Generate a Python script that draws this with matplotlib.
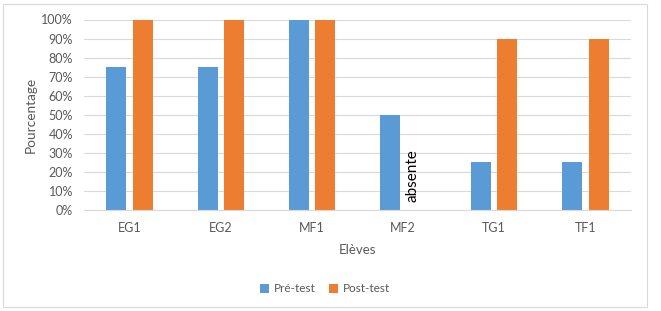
import numpy as np
import matplotlib.pyplot as plt
from matplotlib.patches import Rectangle
from matplotlib.ticker import PercentFormatter

eleves = ["EG1", "EG2", "MF1", "MF2", "TG1", "TF1"]
pre_test = [75, 75, 100, 50, 25, 25]
post_test = [100, 100, 100, 0, 90, 90]

blue = "#5B9BD5"
orange = "#ED7D31"
gris = "#595959"

plt.rcParams['font.family'] = ['Lato', 'DejaVu Sans']

fig = plt.figure(figsize=(6.61, 3.11), dpi=100)
ax = fig.add_axes([84/661, 1 - 210/311, (631-84)/661, (210-19.5)/311])

x = np.arange(len(eleves))
w = 0.22
off = 0.145
ax.bar(x - off, pre_test, w, color=blue, label="Pré-test")
ax.bar(x + off, post_test, w, color=orange, label="Post-test")

# MF2 absente au post-test
ax.text(3 + off - 0.04, 4, "absente", rotation=90, ha='center', va='bottom',
        fontsize=11, color='black')

ax.set_xlim(-0.5, len(eleves) - 0.5)
ax.set_ylim(0, 100)
ax.set_yticks(np.arange(0, 101, 10))
ax.yaxis.set_major_formatter(PercentFormatter(decimals=0))
ax.set_xticks(x)
ax.set_xticklabels(eleves)
ax.grid(axis='y', color='#D9D9D9', linewidth=0.8)
ax.set_axisbelow(True)
for s in ['top', 'right', 'left']:
    ax.spines[s].set_visible(False)
ax.spines['bottom'].set_color('#D9D9D9')
ax.tick_params(axis='both', length=0, colors=gris, labelsize=9)
ax.tick_params(axis='y', pad=8)
ax.tick_params(axis='x', pad=9)

ax.set_xlabel("Elèves", fontsize=9.5, color=gris, labelpad=7)
ax.set_ylabel("Pourcentage", fontsize=9.8, color=gris, labelpad=3)

fig.legend(loc='center', bbox_to_anchor=(325/661, 1 - 289/311), ncol=2, frameon=False,
           fontsize=8.5, handlelength=0.7, handleheight=0.7, columnspacing=1.2,
           handletextpad=0.4, labelcolor=gris)

fig.patches.append(Rectangle((3/661, 4/311), 644/661, 303/311, transform=fig.transFigure,
                             fill=False, edgecolor='#D9D9D9', linewidth=0.8))

fig.savefig("out.png", dpi=100)
